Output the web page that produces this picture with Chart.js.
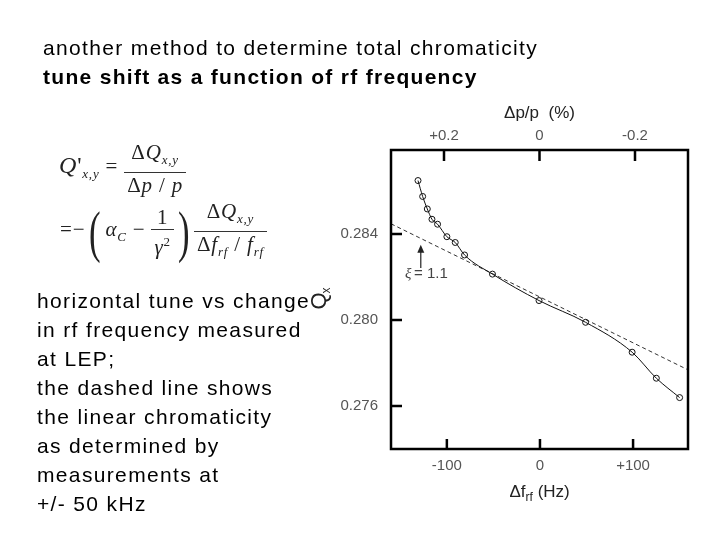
<!DOCTYPE html>
<html>
<head>
<meta charset="utf-8">
<script src="https://cdn.jsdelivr.net/npm/chart.js@4.4.1/dist/chart.umd.min.js"></script>
<style>
  html, body { margin: 0; padding: 0; background: #fff; }
  body { width: 720px; height: 540px; position: relative; overflow: hidden; font-family: "Liberation Sans", Arial, sans-serif; }
  #chart { position: absolute; left: 0; top: 0; }
  .txt { position: absolute; white-space: nowrap; color: #000; letter-spacing: 1.35px; }
  #title1 { left: 43px; top: 36px; font-size: 21px; }
  #title2 { left: 43px; top: 65px; font-size: 21px; font-weight: bold; letter-spacing: 1.3px; }
  #notes { left: 37px; top: 286px; font-size: 21px; line-height: 29px; }
  .eq { position: absolute; white-space: nowrap; font-family: "Liberation Serif", "Times New Roman", serif; color: #222; font-size: 21px; letter-spacing: 0.8px; }
  .eq i { font-style: italic; }
  .eq sub { font-size: 13px; vertical-align: -5px; }
  .frac { display: inline-block; vertical-align: middle; text-align: center; }
  .frac > span { display: block; padding: 0 3px; line-height: 24px; }
  .frac .num { border-bottom: 1px solid #333; }
  .paren { font-size: 58px; font-weight: 100; vertical-align: middle; display: inline-block; transform: scaleX(0.6); line-height: 58px; }
  #eq1 { left: 59px; top: 140px; }
  #eq2 { left: 60px; top: 199px; }
</style>
</head>
<body>
<canvas id="chart" width="720" height="540"></canvas>

<div id="title1" class="txt">another method to determine total chromaticity</div>
<div id="title2" class="txt">tune shift as a function of rf frequency</div>

<div id="eq1" class="eq">
  <i style="font-size:24px">Q</i><span style="font-size:24px">'</span><sub><i>x,y</i></sub>
  <span>=</span>
  <span class="frac"><span class="num">&Delta;<i>Q</i><sub><i>x,y</i></sub></span><span class="den">&Delta;<i>p</i> / <i>p</i></span></span>
</div>

<div id="eq2" class="eq">
  <span>=&minus;</span><span class="paren">(</span><i>&alpha;</i><sub><i>C</i></sub> &minus;
  <span class="frac"><span class="num">1</span><span class="den"><i>&gamma;</i><sup style="font-size:13px">2</sup></span></span><span class="paren">)</span><span class="frac"><span class="num">&Delta;<i>Q</i><sub><i>x,y</i></sub></span><span class="den">&Delta;<i>f</i><sub><i>rf</i></sub> / <i>f</i><sub><i>rf</i></sub></span></span>
</div>

<div id="notes" class="txt">horizontal tune vs change<br>in rf frequency measured<br>at LEP;<br>the dashed line shows<br>the linear chromaticity<br>as determined by<br>measurements at<br>+/- 50 kHz</div>

<script>
    "use strict";

    // measured horizontal tune vs rf frequency change (LEP)
    var freqShift = [-131, -126, -121, -116, -110, -100, -91, -81, -51, -1, 49, 99, 125, 150];
    var tuneQx = [0.28648, 0.28574, 0.28516, 0.28468, 0.28445, 0.28387, 0.28360, 0.28302,
                  0.28213, 0.28090, 0.27989, 0.27850, 0.27729, 0.27639];

    // linear chromaticity line (dashed), end points
    var linearFitX = [-160, 159];
    var linearFitY = [0.28447, 0.27768];

    var freqTicks = [-100, 0, 100];
    var freqTickLabels = ["-100", "0", "+100"];
    var momentumTicks = [0.2, 0, -0.2];
    var momentumTickLabels = ["+0.2", "0", "-0.2"];
    var tuneTicks = [0.284, 0.280, 0.276];
    var tuneTickLabels = ["0.284", "0.280", "0.276"];

    var INK = "#111";
    var LABEL = "#555";
    var TICK_FONT = { family: "Liberation Sans", size: 15 };

    function toPoints(xs, ys) {
        var pts = [];
        for (var i = 0; i < xs.length; i++) {
            pts.push({ x: xs[i], y: ys[i] });
        }
        return pts;
    }

    function fixedTicks(values) {
        return function(scale) {
            scale.ticks = values.map(function(v) { return { value: v }; });
        };
    }

    function labelsFrom(labels) {
        return function(value, index) {
            return labels[index];
        };
    }

    // frame, inward tick marks, axis titles and the xi annotation
    var frameTicks = {
        id: "frameTicks",
        afterDraw: function(chart) {
            var ctx = chart.ctx;
            var a = chart.chartArea;
            var sx = chart.scales.x, sx2 = chart.scales.x2, sy = chart.scales.y;
            ctx.save();
            ctx.strokeStyle = "#000";
            ctx.lineWidth = 2.5;
            ctx.strokeRect(a.left, a.top, a.right - a.left, a.bottom - a.top);
            ctx.beginPath();
            freqTicks.forEach(function(v) {
                var px = sx.getPixelForValue(v);
                ctx.moveTo(px, a.bottom);
                ctx.lineTo(px, a.bottom - 10);
            });
            momentumTicks.forEach(function(v) {
                var px = sx2.getPixelForValue(v);
                ctx.moveTo(px, a.top);
                ctx.lineTo(px, a.top + 11);
            });
            tuneTicks.forEach(function(v) {
                var py = sy.getPixelForValue(v);
                ctx.moveTo(a.left, py);
                ctx.lineTo(a.left + 11, py);
            });
            ctx.stroke();

            // arrow for xi = 1.1
            var ax = sx.getPixelForValue(-128);
            var ayTip = sy.getPixelForValue(0.28349);
            var ayTail = sy.getPixelForValue(0.28242);
            ctx.lineWidth = 1.2;
            ctx.strokeStyle = "#222";
            ctx.beginPath();
            ctx.moveTo(ax, ayTail);
            ctx.lineTo(ax, ayTip + 5);
            ctx.stroke();
            ctx.fillStyle = "#222";
            ctx.beginPath();
            ctx.moveTo(ax, ayTip);
            ctx.lineTo(ax - 3.5, ayTip + 8);
            ctx.lineTo(ax + 3.5, ayTip + 8);
            ctx.closePath();
            ctx.fill();

            ctx.fillStyle = "#444";
            ctx.font = "italic 15px 'Liberation Serif'";
            ctx.textBaseline = "middle";
            ctx.textAlign = "left";
            var tx = sx.getPixelForValue(-145);
            var ty = sy.getPixelForValue(0.28214);
            ctx.fillText("\u03be", tx, ty);
            ctx.font = "15px 'Liberation Sans'";
            ctx.fillText("= 1.1", tx + 9, ty);

            // top axis title
            ctx.fillStyle = "#222";
            ctx.font = "17px 'Liberation Sans'";
            ctx.textAlign = "center";
            ctx.fillText("\u0394p/p  (%)", (a.left + a.right) / 2, a.top - 37);

            // bottom axis title with subscript
            var bx = (a.left + a.right) / 2 - 30;
            var by = a.bottom + 43;
            ctx.textAlign = "left";
            ctx.fillText("\u0394f", bx, by);
            var w = ctx.measureText("\u0394f").width;
            ctx.font = "12px 'Liberation Sans'";
            ctx.fillText("rf", bx + w, by + 6);
            var w2 = ctx.measureText("rf").width;
            ctx.font = "17px 'Liberation Sans'";
            ctx.fillText(" (Hz)", bx + w + w2, by);

            // y axis title Q_x, rotated (subscript lands to the right)
            ctx.translate(a.left - 65, (a.top + a.bottom) / 2 + 10);
            ctx.rotate(-Math.PI / 2);
            ctx.font = "22px 'Liberation Sans'";
            ctx.textAlign = "left";
            ctx.textBaseline = "alphabetic";
            ctx.fillText("Q", 0, 0);
            var wq = ctx.measureText("Q").width;
            ctx.font = "12px 'Liberation Sans'";
            ctx.fillText("x", wq - 1, 4);
            ctx.restore();
        }
    };

    var chart = new Chart(document.getElementById("chart").getContext("2d"), {
        type: "scatter",
        data: {
            datasets: [
                {
                    label: "measured",
                    data: toPoints(freqShift, tuneQx),
                    showLine: true,
                    cubicInterpolationMode: "monotone",
                    borderColor: INK,
                    borderWidth: 1,
                    pointRadius: 3,
                    pointBorderWidth: 1,
                    pointBorderColor: INK,
                    pointBackgroundColor: "rgba(255,255,255,0)",
                    order: 1
                },
                {
                    label: "linear chromaticity",
                    data: toPoints(linearFitX, linearFitY),
                    showLine: true,
                    borderColor: "#333",
                    borderWidth: 1,
                    borderDash: [4, 3],
                    pointRadius: 0,
                    order: 2
                }
            ]
        },
        options: {
            responsive: false,
            animation: false,
            devicePixelRatio: 1,
            layout: { padding: { left: 331, right: 32, top: 110, bottom: 51 } },
            plugins: {
                legend: { display: false },
                tooltip: { enabled: false }
            },
            scales: {
                x: {
                    type: "linear",
                    position: "bottom",
                    min: -160,
                    max: 159,
                    afterBuildTicks: fixedTicks(freqTicks),
                    afterFit: function(s) { s.height = 40; },
                    grid: { display: false, drawTicks: false },
                    border: { display: false },
                    ticks: { callback: labelsFrom(freqTickLabels), color: LABEL, font: TICK_FONT, padding: 8, maxRotation: 0 }
                },
                x2: {
                    type: "linear",
                    position: "top",
                    reverse: true,
                    min: -0.311,
                    max: 0.311,
                    afterBuildTicks: fixedTicks(momentumTicks),
                    afterFit: function(s) { s.height = 40; },
                    grid: { display: false, drawTicks: false },
                    border: { display: false },
                    ticks: { callback: labelsFrom(momentumTickLabels), color: LABEL, font: TICK_FONT, padding: 5, maxRotation: 0 }
                },
                y: {
                    type: "linear",
                    position: "left",
                    min: 0.274,
                    max: 0.2879,
                    afterBuildTicks: fixedTicks(tuneTicks),
                    afterFit: function(s) { s.width = 60; },
                    grid: { display: false, drawTicks: false },
                    border: { display: false },
                    ticks: { callback: labelsFrom(tuneTickLabels), color: LABEL, font: TICK_FONT, padding: 13 }
                }
            }
        },
        plugins: [frameTicks]
    });
</script>
</body>
</html>
